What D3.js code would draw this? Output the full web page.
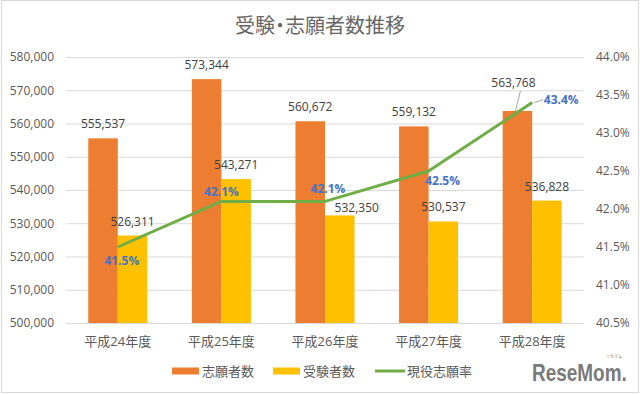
<!DOCTYPE html>
<html>
<head>
<meta charset="utf-8">
<script src="https://cdn.jsdelivr.net/npm/d3@7"></script>
<style>
	body { margin: 0; background: #fff; }
	svg text { font-family: "Open Sans", "Noto Sans CJK JP", sans-serif; }
</style>
</head>
<body>
<div id="chart"></div>
<script>
// chart data
var categories = ["平成24年度", "平成25年度", "平成26年度", "平成27年度", "平成28年度"];
var applicants = [555537, 573344, 560672, 559132, 563768];   // 志願者数
var examinees = [526311, 543271, 532350, 530537, 536828];    // 受験者数
var rate = [41.5, 42.1, 42.1, 42.5, 43.4];                    // 現役志願率
var leftTicks = [500000, 510000, 520000, 530000, 540000, 550000, 560000, 570000, 580000];
var rightTicks = [40.5, 41.0, 41.5, 42.0, 42.5, 43.0, 43.5, 44.0];
var seriesNames = ["志願者数", "受験者数", "現役志願率"];

var WIDTH = 640,
	HEIGHT = 394,
	PLOT = {left: 66, right: 584, top: 57, bottom: 323};

var ORANGE = "#ED7D31", YELLOW = "#FFC000", GREEN = "#70AD47", BLUE = "#4472C4";

var svg = d3.select("#chart").append("svg")
	.attr("width", WIDTH)
	.attr("height", HEIGHT);

// outer border
svg.append("rect")
	.attr("x", 1.5).attr("y", 0.5)
	.attr("width", 637).attr("height", 392)
	.attr("fill", "none")
	.attr("stroke", "#D9D9D9");

// scales
var x0 = d3.scaleBand().domain(categories)
	.range([PLOT.left, PLOT.right])
	.paddingInner(0.43).paddingOuter(0.215);
var x1 = d3.scaleBand().domain([0, 1]).range([0, x0.bandwidth()]);
var y = d3.scaleLinear().domain([500000, 580000]).range([PLOT.bottom, PLOT.top]);
var y2 = d3.scaleLinear().domain([40.5, 44.0]).range([PLOT.bottom, PLOT.top]);

// title, proportional CJK widths so the dot is narrow
svg.append("text")
	.attr("x", 320).attr("y", 33)
	.attr("text-anchor", "middle")
	.style("font-size", "20px")
	.style("font-family", "'Noto Sans CJK JP', sans-serif")
	.style("font-feature-settings", "'palt'")
	.attr("fill", "#666666")
	.text("受験・志願者数推移");

// left axis + gridlines
var yAxis = svg.append("g")
	.attr("transform", "translate(" + PLOT.left + ",0)")
	.call(d3.axisLeft(y).tickValues(leftTicks).tickFormat(d3.format(","))
		.tickSize(-(PLOT.right - PLOT.left)).tickPadding(12));
yAxis.select(".domain").remove();
yAxis.selectAll("line").attr("stroke", "#D9D9D9");
yAxis.selectAll("text").attr("fill", "#595959").style("font-size", "12px");

// right axis
var y2Axis = svg.append("g")
	.attr("transform", "translate(" + PLOT.right + ",0)")
	.call(d3.axisRight(y2).tickValues(rightTicks).tickFormat(function(d) {return d3.format(".1f")(d) + "%";})
		.tickSize(0).tickPadding(12));
y2Axis.select(".domain").remove();
y2Axis.selectAll("text").attr("fill", "#595959").style("font-size", "12px");

// x labels
svg.append("g").selectAll("text")
	.data(categories)
	.enter().append("text")
	.attr("x", function(d) {return x0(d) + x0.bandwidth()/2;})
	.attr("y", 346)
	.attr("text-anchor", "middle")
	.attr("fill", "#595959")
	.style("font-size", "13px")
	.text(function(d) {return d;});

// bars
var groups = svg.append("g").selectAll("g")
	.data(categories)
	.enter().append("g")
	.attr("transform", function(d) {return "translate(" + x0(d) + ",0)";});

groups.append("rect")
	.attr("x", x1(0))
	.attr("y", function(d, i) {return y(applicants[i]);})
	.attr("width", x1.bandwidth())
	.attr("height", function(d, i) {return PLOT.bottom - y(applicants[i]);})
	.attr("fill", ORANGE);

groups.append("rect")
	.attr("x", x1(1))
	.attr("y", function(d, i) {return y(examinees[i]);})
	.attr("width", x1.bandwidth())
	.attr("height", function(d, i) {return PLOT.bottom - y(examinees[i]);})
	.attr("fill", YELLOW);

// bar labels (a couple moved by hand like in the original)
var fmt = d3.format(",");
var orangeShift = {4: [-4, -14]};
var yellowShift = {2: [17, 7]};

groups.each(function(d, i) {
	var g = d3.select(this);
	var s = orangeShift[i] || [0, 0];
	var cx = x1(0) + x1.bandwidth()/2, top = y(applicants[i]);
	if (orangeShift[i]) {
		g.append("line")
			.attr("x1", cx + s[0] + 7).attr("y1", top - 10 + s[1] + 4)
			.attr("x2", cx - 2).attr("y2", top)
			.attr("stroke", "#A6A6A6").attr("stroke-width", 1);
	}
	g.append("text")
		.attr("x", cx + s[0]).attr("y", top - 10 + s[1])
		.attr("text-anchor", "middle")
		.attr("fill", "#404040")
		.style("font-size", "12px")
		.text(fmt(applicants[i]));

	var t = yellowShift[i] || [0, 0];
	var cx2 = x1(1) + x1.bandwidth()/2;
	g.append("text")
		.attr("x", cx2 + t[0]).attr("y", y(examinees[i]) - 10 + t[1])
		.attr("text-anchor", "middle")
		.attr("fill", "#404040")
		.style("font-size", "12px")
		.text(fmt(examinees[i]));
});

// line
var lineGen = d3.line()
	.x(function(d, i) {return x0(categories[i]) + x0.bandwidth()/2;})
	.y(function(d) {return y2(d);});

svg.append("path")
	.datum(rate)
	.attr("d", lineGen)
	.attr("fill", "none")
	.attr("stroke", GREEN)
	.attr("stroke-width", 3)
	.attr("stroke-linejoin", "round");

// line labels: offsets from each point
var rateOffset = [[4, 14], [0, -10], [3, -13], [14, 10], [29, -3]];
rate.forEach(function(d, i) {
	var px = x0(categories[i]) + x0.bandwidth()/2, py = y2(d);
	var o = rateOffset[i];
	if (i == 4) {
		svg.append("line")
			.attr("x1", px + 2).attr("y1", py)
			.attr("x2", px + 11).attr("y2", py - 3)
			.attr("stroke", "#A6A6A6").attr("stroke-width", 1);
	}
	svg.append("text")
		.attr("x", px + o[0]).attr("y", py + o[1])
		.attr("dy", "0.35em")
		.attr("text-anchor", "middle")
		.attr("fill", BLUE)
		.style("font-size", "12px")
		.style("font-weight", "bold")
		.text(d3.format(".1f")(d) + "%");
});

// legend
var legendX = [172, 273, 375];
var legend = svg.append("g").selectAll("g")
	.data(seriesNames)
	.enter().append("g")
	.attr("transform", function(d, i) {return "translate(" + legendX[i] + ",371)";});

legend.each(function(d, i) {
	var g = d3.select(this);
	if (i < 2) {
		g.append("rect").attr("x", 0).attr("y", -3.5).attr("width", 27).attr("height", 7)
			.attr("fill", i == 0 ? ORANGE : YELLOW);
	} else {
		g.append("line").attr("x1", 0).attr("x2", 30).attr("y1", 0).attr("y2", 0)
			.attr("stroke", GREEN).attr("stroke-width", 3);
	}
	g.append("text")
		.attr("x", i < 2 ? 30 : 32).attr("y", 0)
		.attr("dy", "0.35em")
		.attr("fill", "#595959")
		.style("font-size", "13px")
		.text(d);
});

// logo, squeezed horizontally
svg.append("g")
	.attr("transform", "translate(532,381) scale(0.79,1)")
	.append("text")
	.attr("x", 0).attr("y", 0)
	.attr("fill", "#7A7A7A")
	.style("font-size", "24px")
	.style("font-weight", "bold")
	.style("font-family", "'Liberation Sans', sans-serif")
	.text("ReseMom.");
svg.append("text")
	.attr("x", 614).attr("y", 358)
	.attr("text-anchor", "middle")
	.attr("fill", "#7A7A7A")
	.style("font-size", "4px")
	.text("リセマム");
</script>
</body>
</html>
